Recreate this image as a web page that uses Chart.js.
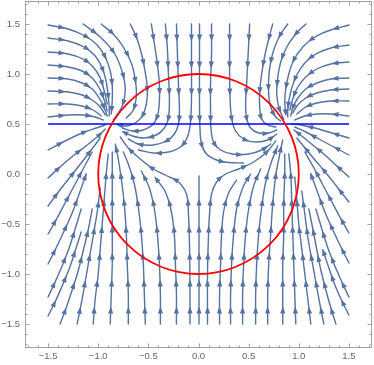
<!DOCTYPE html>
<html><head><meta charset="utf-8">
<script src="https://cdn.jsdelivr.net/npm/chart.js@4.4.1/dist/chart.umd.min.js"></script>
<style>html,body{margin:0;padding:0;background:#fff}#wrap{width:374px;height:365px}</style>
</head><body><div id="wrap"><canvas id="c" width="374" height="365"></canvas></div>
<script>
// ---- axis data ----
const xRange = [-1.73, 1.73];
const yRange = [-1.74, 1.73];
const majorTicks = [-1.5, -1, -0.5, 0, 0.5, 1, 1.5];
const tickLabels = ['\u22121.5', '\u22121.0', '\u22120.5', '0.0', '0.5', '1.0', '1.5'];
const minorStep = 0.1;

// ---- constraint curves ----
const circleCenter = [0, 0];
const circleRadius = 1;
const constraintLineX = [-1.5, 1.5];
const constraintLineY = [0.5, 0.5];

// ---- streamlines ----
const topLeftLines = [
  [[-1.5,1.49],[-1.3,1.45],[-1.13,1.38],[-1.01,1.29],[-0.93,1.17],[-0.88,1.03],[-0.86,0.88],[-0.86,0.74],[-0.87,0.6]],
  [[-1.5,1.36],[-1.3,1.33],[-1.14,1.27],[-1.03,1.18],[-0.96,1.06],[-0.92,0.92],[-0.9,0.78],[-0.89,0.66],[-0.89,0.58]],
  [[-1.5,1.22],[-1.3,1.2],[-1.15,1.15],[-1.05,1.07],[-0.98,0.96],[-0.94,0.83],[-0.91,0.7]],
  [[-1.5,1.09],[-1.3,1.07],[-1.16,1.03],[-1.06,0.96],[-0.99,0.86],[-0.94,0.74],[-0.91,0.63]],
  [[-1.5,0.96],[-1.3,0.95],[-1.16,0.91],[-1.06,0.85],[-0.99,0.76],[-0.94,0.66],[-0.91,0.58]],
  [[-1.5,0.83],[-1.3,0.82],[-1.16,0.79],[-1.06,0.74],[-0.98,0.67],[-0.93,0.59]],
  [[-1.5,0.7],[-1.3,0.7],[-1.16,0.68],[-1.05,0.64],[-0.97,0.58]],
  [[-1.5,0.57],[-1.3,0.59],[-1.15,0.59],[-1.03,0.57],[-0.95,0.54]],
  [[-1.15,1.5],[-0.98,1.37],[-0.84,1.21],[-0.76,1.02],[-0.73,0.84],[-0.76,0.68],[-0.82,0.58],[-0.85,0.54]],
  [[-0.97,1.5],[-0.85,1.4],[-0.75,1.27],[-0.67,1.11],[-0.63,0.94],[-0.62,0.78],[-0.65,0.64],[-0.72,0.56]],
  [[-0.68,1.5],[-0.62,1.37],[-0.57,1.21],[-0.53,1.01],[-0.51,0.85],[-0.52,0.7],[-0.56,0.58],[-0.63,0.51],[-0.72,0.48],[-0.8,0.49]],
  [[-0.47,1.5],[-0.44,1.3],[-0.41,1.1],[-0.39,0.9],[-0.39,0.72],[-0.41,0.58],[-0.46,0.49],[-0.55,0.44],[-0.66,0.43],[-0.76,0.46]],
  [[-0.33,1.5],[-0.31,1.25],[-0.3,1.0],[-0.29,0.75],[-0.3,0.56],[-0.34,0.46],[-0.42,0.39],[-0.54,0.36],[-0.66,0.38],[-0.75,0.42]],
  [[-0.22,1.5],[-0.21,1.2],[-0.2,0.9],[-0.19,0.65],[-0.2,0.5],[-0.24,0.4],[-0.32,0.33],[-0.45,0.29],[-0.6,0.3],[-0.7,0.35]],
  [[-0.07,1.5],[-0.07,1.1],[-0.07,0.75],[-0.08,0.52],[-0.11,0.37],[-0.18,0.27],[-0.3,0.22],[-0.45,0.21],[-0.6,0.24]]
];
const topRightLines = [
  [[0.01,1.5],[0.01,1.1],[0.01,0.7],[0.015,0.45],[0.03,0.3],[0.08,0.2],[0.18,0.14],[0.3,0.115],[0.45,0.11]],
  [[0.13,1.5],[0.13,1.2],[0.12,0.9],[0.12,0.65],[0.125,0.45],[0.15,0.32],[0.22,0.24],[0.34,0.2],[0.5,0.2],[0.63,0.24],[0.72,0.3]],
  [[0.31,1.5],[0.31,1.25],[0.31,1.0],[0.315,0.75],[0.33,0.56],[0.37,0.43],[0.45,0.35],[0.57,0.32],[0.69,0.34],[0.78,0.4]],
  [[0.51,1.5],[0.5,1.3],[0.49,1.1],[0.48,0.9],[0.47,0.7],[0.48,0.56],[0.52,0.46],[0.6,0.41],[0.7,0.41],[0.78,0.44]],
  [[0.74,1.5],[0.7,1.35],[0.66,1.18],[0.63,1.0],[0.61,0.82],[0.61,0.67],[0.63,0.55],[0.69,0.49],[0.77,0.47]],
  [[0.89,1.5],[0.82,1.4],[0.76,1.27],[0.72,1.12],[0.7,0.96],[0.7,0.8],[0.72,0.67],[0.77,0.57],[0.82,0.53]],
  [[1.07,1.5],[0.97,1.4],[0.88,1.27],[0.82,1.12],[0.79,0.96],[0.78,0.8],[0.8,0.67],[0.83,0.59],[0.85,0.55]],
  [[1.5,1.49],[1.32,1.44],[1.16,1.37],[1.04,1.27],[0.95,1.14],[0.9,1.0],[0.87,0.85],[0.86,0.72],[0.87,0.6]],
  [[1.5,1.29],[1.32,1.26],[1.17,1.2],[1.06,1.11],[0.98,0.99],[0.93,0.86],[0.9,0.73],[0.89,0.63],[0.89,0.57]],
  [[1.5,1.12],[1.32,1.1],[1.18,1.05],[1.07,0.97],[0.99,0.87],[0.94,0.75],[0.91,0.64]],
  [[1.5,0.96],[1.32,0.95],[1.18,0.91],[1.07,0.85],[0.99,0.76],[0.94,0.66],[0.92,0.58]],
  [[1.5,0.85],[1.32,0.84],[1.18,0.81],[1.07,0.76],[0.99,0.69],[0.94,0.61]],
  [[1.5,0.73],[1.32,0.73],[1.18,0.71],[1.07,0.67],[0.98,0.6]],
  [[1.5,0.58],[1.32,0.6],[1.18,0.6],[1.06,0.58],[0.96,0.54]]
];
const bottomLeftLines = [
  [[-1.5,0.24],[-1.33,0.33],[-1.16,0.41],[-1.02,0.46],[-0.93,0.49]],
  [[-1.5,-0.04],[-1.37,0.08],[-1.24,0.19],[-1.11,0.29],[-1.0,0.38],[-0.93,0.45]],
  [[-1.5,-0.32],[-1.39,-0.17],[-1.28,-0.03],[-1.17,0.11],[-1.07,0.24],[-0.98,0.36]],
  [[-1.5,-0.6],[-1.41,-0.44],[-1.32,-0.27],[-1.23,-0.1],[-1.14,0.07],[-1.06,0.22]],
  [[-1.5,-0.9],[-1.42,-0.74],[-1.34,-0.57],[-1.26,-0.39],[-1.19,-0.2],[-1.12,0.0]],
  [[-1.5,-1.23],[-1.43,-1.08],[-1.36,-0.92],[-1.29,-0.74],[-1.23,-0.55],[-1.17,-0.35]],
  [[-1.5,-1.42],[-1.43,-1.28],[-1.36,-1.12],[-1.29,-0.95],[-1.23,-0.77],[-1.17,-0.58]],
  [[-1.38,-1.5],[-1.32,-1.34],[-1.26,-1.16],[-1.2,-0.97],[-1.15,-0.77],[-1.1,-0.56],[-1.06,-0.35]],
  [[-1.21,-1.5],[-1.17,-1.3],[-1.13,-1.08],[-1.09,-0.85],[-1.05,-0.62],[-1.01,-0.38],[-0.98,-0.14]],
  [[-1.05,-1.5],[-1.03,-1.25],[-1.0,-1.0],[-0.98,-0.75],[-0.96,-0.5],[-0.94,-0.25],[-0.92,0.0],[-0.9,0.2]],
  [[-0.88,-1.5],[-0.87,-1.2],[-0.86,-0.9],[-0.86,-0.6],[-0.86,-0.3],[-0.86,0.0],[-0.86,0.22]],
  [[-0.7,-1.5],[-0.7,-1.2],[-0.71,-0.9],[-0.72,-0.6],[-0.74,-0.3],[-0.77,-0.05],[-0.8,0.15],[-0.83,0.3]],
  [[-0.53,-1.5],[-0.54,-1.2],[-0.55,-0.9],[-0.57,-0.6],[-0.6,-0.33],[-0.64,-0.1],[-0.7,0.1],[-0.75,0.22]],
  [[-0.38,-1.5],[-0.38,-1.2],[-0.39,-0.9],[-0.41,-0.6],[-0.44,-0.35],[-0.49,-0.14],[-0.57,0.03]],
  [[-0.22,-1.5],[-0.22,-1.2],[-0.23,-0.9],[-0.24,-0.62],[-0.27,-0.38],[-0.33,-0.18],[-0.42,-0.05]],
  [[-0.085,-1.5],[-0.085,-1.1],[-0.09,-0.7],[-0.1,-0.4],[-0.12,-0.2],[-0.2,-0.08],[-0.33,-0.01],[-0.45,0.05],[-0.58,0.15],[-0.7,0.26],[-0.78,0.37]],
  [[0.005,-1.5],[0.005,-1.0],[0.005,-0.5],[0.005,-0.02]]
];
const bottomRightLines = [
  [[0.09,-1.5],[0.09,-1.0],[0.1,-0.6],[0.11,-0.4],[0.13,-0.2],[0.18,-0.08],[0.27,0.0],[0.4,0.05],[0.55,0.12],[0.68,0.22],[0.77,0.33]],
  [[0.21,-1.5],[0.21,-1.2],[0.22,-0.9],[0.23,-0.6],[0.25,-0.38],[0.3,-0.19],[0.38,-0.06]],
  [[0.32,-1.5],[0.32,-1.2],[0.33,-0.9],[0.35,-0.6],[0.38,-0.35],[0.44,-0.14],[0.52,0.0]],
  [[0.44,-1.5],[0.44,-1.2],[0.45,-0.9],[0.47,-0.6],[0.5,-0.35],[0.55,-0.12],[0.62,0.05]],
  [[0.57,-1.5],[0.57,-1.2],[0.58,-0.9],[0.6,-0.6],[0.63,-0.33],[0.67,-0.08],[0.73,0.13],[0.79,0.28]],
  [[0.69,-1.5],[0.69,-1.2],[0.7,-0.9],[0.72,-0.6],[0.74,-0.3],[0.77,-0.02],[0.81,0.2],[0.84,0.34]],
  [[0.84,-1.5],[0.84,-1.2],[0.84,-0.9],[0.85,-0.6],[0.85,-0.3],[0.86,0.0],[0.86,0.2]],
  [[0.97,-1.5],[0.96,-1.2],[0.95,-0.9],[0.94,-0.6],[0.93,-0.3],[0.92,0.0],[0.9,0.2]],
  [[1.12,-1.5],[1.09,-1.25],[1.06,-1.0],[1.03,-0.75],[1.0,-0.5],[0.98,-0.25],[0.96,-0.03]],
  [[1.25,-1.5],[1.21,-1.3],[1.17,-1.08],[1.13,-0.86],[1.09,-0.63],[1.06,-0.4],[1.03,-0.17]],
  [[1.37,-1.5],[1.32,-1.34],[1.27,-1.16],[1.22,-0.96],[1.18,-0.76],[1.14,-0.55],[1.1,-0.35]],
  [[1.5,0.36],[1.33,0.41],[1.16,0.46],[1.02,0.49],[0.93,0.5]],
  [[1.5,0.19],[1.35,0.27],[1.2,0.35],[1.07,0.42],[0.96,0.47]],
  [[1.5,-0.03],[1.38,0.08],[1.26,0.19],[1.14,0.29],[1.03,0.38],[0.95,0.44]],
  [[1.5,-0.28],[1.39,-0.14],[1.28,0.0],[1.17,0.13],[1.07,0.25],[0.98,0.36]],
  [[1.5,-0.59],[1.41,-0.43],[1.32,-0.26],[1.23,-0.09],[1.14,0.08],[1.06,0.22]],
  [[1.5,-0.89],[1.42,-0.73],[1.34,-0.56],[1.26,-0.38],[1.19,-0.19],[1.12,0.0]],
  [[1.5,-1.23],[1.43,-1.08],[1.36,-0.92],[1.29,-0.74],[1.23,-0.55],[1.17,-0.35]],
  [[1.5,-1.41],[1.43,-1.27],[1.36,-1.11],[1.3,-0.94],[1.24,-0.76]]
];

// ---- styles ----
const STREAM_COLOR = 'rgb(84,114,162)';
const FRAME_COLOR = '#a3a3a3';
const LABEL_COLOR = '#666666';
const ARROW_START = 14, ARROW_GAP = 27;

const datasets = [];
datasets.push({
  data: constraintLineX.map((x, i) => ({x, y: constraintLineY[i]})),
  borderColor: '#0000ff', borderWidth: 1.5, pointRadius: 0, tension: 0, fill: false
});
[...topLeftLines, ...topRightLines, ...bottomLeftLines, ...bottomRightLines].forEach(line => {
  datasets.push({
    data: line.map(p => ({x: p[0], y: p[1]})),
    borderColor: STREAM_COLOR, borderWidth: 1.4, pointRadius: 0, tension: 0.35,
    fill: false, isStream: true, borderCapStyle: 'round', borderJoinStyle: 'round'
  });
});

const arrowPlugin = {
  id: 'arrows',
  afterDatasetDraw(chart, args) {
    const ds = chart.data.datasets[args.index];
    if (!ds.isStream) return;
    const pts = args.meta.data;
    if (pts.length < 2) return;
    const ctx = chart.ctx, a = chart.chartArea;
    ctx.save();
    ctx.beginPath(); ctx.rect(a.left, a.top, a.right - a.left, a.bottom - a.top); ctx.clip();
    ctx.fillStyle = ds.borderColor;
    const path = [[pts[0].x, pts[0].y]];
    for (let i = 0; i < pts.length - 1; i++) {
      const p = pts[i], q = pts[i + 1];
      const c1x = p.cp2x ?? p.x, c1y = p.cp2y ?? p.y, c2x = q.cp1x ?? q.x, c2y = q.cp1y ?? q.y;
      for (let k = 1; k <= 20; k++) {
        const t = k / 20, m = 1 - t;
        path.push([m*m*m*p.x + 3*m*m*t*c1x + 3*m*t*t*c2x + t*t*t*q.x,
                   m*m*m*p.y + 3*m*m*t*c1y + 3*m*t*t*c2y + t*t*t*q.y]);
      }
    }
    let next = ARROW_START, acc = 0;
    for (let i = 1; i < path.length; i++) {
      const dx = path[i][0] - path[i-1][0], dy = path[i][1] - path[i-1][1];
      const L = Math.hypot(dx, dy);
      if (L === 0) continue;
      while (acc + L >= next) {
        const t = (next - acc) / L;
        const x = path[i-1][0] + dx * t, y = path[i-1][1] + dy * t;
        const ux = dx / L, uy = dy / L;
        ctx.beginPath();
        ctx.moveTo(x + ux * 3.5, y + uy * 3.5);
        ctx.lineTo(x - ux * 3.5 - uy * 2.6, y - uy * 3.5 + ux * 2.6);
        ctx.lineTo(x - ux * 3.5 + uy * 2.6, y - uy * 3.5 - ux * 2.6);
        ctx.closePath(); ctx.fill();
        next += ARROW_GAP;
      }
      acc += L;
    }
    ctx.restore();
  }
};

const overlayPlugin = {
  id: 'overlay',
  afterDatasetsDraw(chart) {
    const ctx = chart.ctx, xs = chart.scales.x, ys = chart.scales.y, a = chart.chartArea;
    const cx = xs.getPixelForValue(circleCenter[0]), cy = ys.getPixelForValue(circleCenter[1]);
    const rx = xs.getPixelForValue(circleCenter[0] + circleRadius) - cx;
    const ry = cy - ys.getPixelForValue(circleCenter[1] + circleRadius);
    ctx.save();
    ctx.strokeStyle = '#ff0000'; ctx.lineWidth = 1.8;
    ctx.beginPath(); ctx.ellipse(cx, cy, rx, ry, 0, 0, Math.PI * 2); ctx.stroke();
    ctx.strokeStyle = FRAME_COLOR; ctx.lineWidth = 1;
    ctx.strokeRect(a.left + 0.5, a.top + 0.5, a.right - a.left - 1, a.bottom - a.top - 1);
    const isMajor = v => majorTicks.some(m => Math.abs(m - v) < 1e-6);
    ctx.beginPath();
    xs.ticks.forEach(t => {
      const px = Math.round(xs.getPixelForValue(t.value)) + 0.5;
      const len = isMajor(t.value) ? 4.5 : 2.5;
      ctx.moveTo(px, a.bottom); ctx.lineTo(px, a.bottom - len);
      ctx.moveTo(px, a.top); ctx.lineTo(px, a.top + len);
    });
    ys.ticks.forEach(t => {
      const py = Math.round(ys.getPixelForValue(t.value)) + 0.5;
      const len = isMajor(t.value) ? 4.5 : 2.5;
      ctx.moveTo(a.left, py); ctx.lineTo(a.left + len, py);
      ctx.moveTo(a.right, py); ctx.lineTo(a.right - len, py);
    });
    ctx.stroke();
    ctx.restore();
  }
};

const labelFor = v => {
  const i = majorTicks.findIndex(m => Math.abs(m - v) < 1e-6);
  return i >= 0 ? tickLabels[i] : '';
};
const tickFont = {size: 9.5, family: "'Liberation Sans', Arial, sans-serif"};
const zeroPad = s => { s.paddingTop = 0; s.paddingBottom = 0; s.paddingLeft = 0; s.paddingRight = 0; };

new Chart(document.getElementById('c'), {
  type: 'line',
  data: {datasets},
  options: {
    responsive: false, animation: false, devicePixelRatio: 1,
    layout: {padding: {top: 1, right: 2, left: 0, bottom: 0}},
    plugins: {legend: {display: false}, tooltip: {enabled: false}},
    events: [],
    scales: {
      x: {
        type: 'linear', min: xRange[0], max: xRange[1],
        grid: {display: false, drawTicks: false}, border: {display: false},
        ticks: {stepSize: minorStep, autoSkip: false, includeBounds: false, maxRotation: 0, minRotation: 0,
                padding: 3, color: LABEL_COLOR, font: tickFont, callback: labelFor},
        afterFit(s) { s.height = 17; zeroPad(s); }
      },
      y: {
        type: 'linear', min: yRange[0], max: yRange[1],
        grid: {display: false, drawTicks: false}, border: {display: false},
        ticks: {stepSize: minorStep, autoSkip: false, includeBounds: false,
                padding: 5, color: LABEL_COLOR, font: tickFont, callback: labelFor},
        afterFit(s) { s.width = 25; zeroPad(s); }
      }
    }
  },
  plugins: [arrowPlugin, overlayPlugin]
});
</script>
</body></html>
